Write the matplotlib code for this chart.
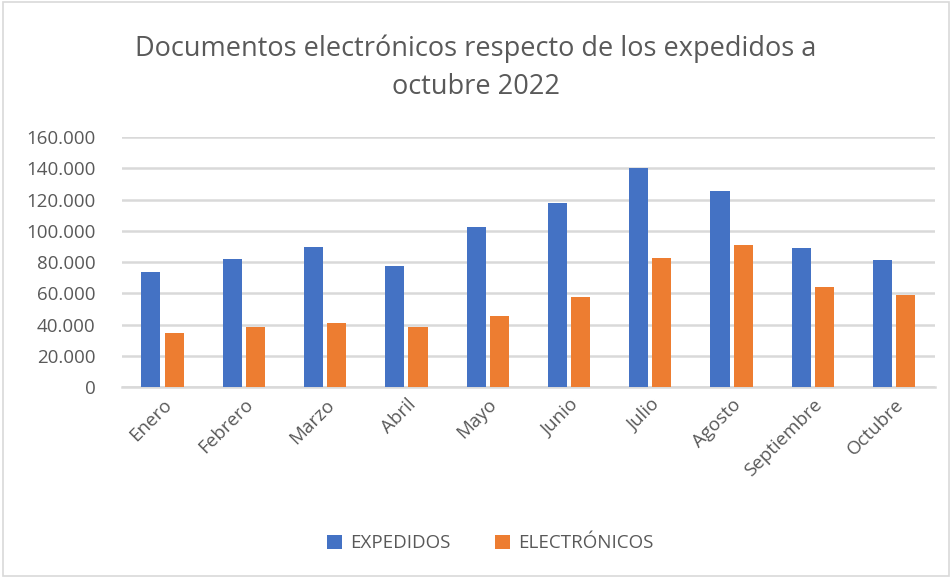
import numpy as np
import matplotlib.pyplot as plt
from matplotlib.ticker import FuncFormatter, MultipleLocator
from matplotlib.patches import Rectangle

months = ["Enero", "Febrero", "Marzo", "Abril", "Mayo", "Junio",
          "Julio", "Agosto", "Septiembre", "Octubre"]
expedidos = [73700, 82300, 89900, 77800, 102500, 117600, 140000, 125700, 88900, 81200]
electronicos = [35000, 38400, 40900, 38400, 45600, 57700, 82900, 91200, 63900, 59000]

BLUE = "#4472C4"
ORANGE = "#ED7D31"
TXT = "#595959"
GRID = "#D9D9D9"

plt.rcParams['font.family'] = ['Open Sans', 'DejaVu Sans']

fig = plt.figure(figsize=(9.52, 5.78), dpi=100)
ax = fig.add_axes([0.128, 0.330, 0.854, 0.433])

x = np.arange(len(months))
w = 0.235
gap = 0.025
ax.bar(x - w / 2 - gap, expedidos, w, color=BLUE, label="EXPEDIDOS", zorder=3)
ax.bar(x + w / 2 + gap, electronicos, w, color=ORANGE, label="ELECTRÓNICOS", zorder=3)

ax.set_xlim(-0.5, len(months) - 0.5)
ax.set_ylim(0, 160000)
ax.yaxis.set_major_locator(MultipleLocator(20000))
ax.yaxis.set_major_formatter(FuncFormatter(lambda v, p: f"{int(v):,}".replace(",", ".")))
ax.grid(axis="y", color=GRID, linewidth=1.8, zorder=0)
for s in ["top", "right", "left"]:
    ax.spines[s].set_visible(False)
ax.spines["bottom"].set_color(GRID)
ax.spines["bottom"].set_linewidth(1.8)
ax.tick_params(axis="both", length=0, colors=TXT, labelsize=13.5)
ax.tick_params(axis="y", pad=19)
ax.tick_params(axis="x", pad=6)
ax.set_xticks(x)
ax.set_xticklabels(months, rotation=45, ha="right", rotation_mode="anchor")

fig.suptitle("Documentos electrónicos respecto de los expedidos a\noctubre 2022",
             color=TXT, fontsize=19.5, y=0.94, linespacing=1.45)

fig.legend(loc="center", bbox_to_anchor=(0.515, 0.060), ncol=2, frameon=False,
           fontsize=13.5, labelcolor=TXT, handlelength=0.8, handleheight=0.8,
           columnspacing=2.4, handletextpad=0.4)

fig.patches.append(Rectangle((0.003, 0.003), 0.994, 0.994, transform=fig.transFigure,
                             fill=False, edgecolor=GRID, linewidth=1.2))

fig.savefig("out.png", dpi=100)
